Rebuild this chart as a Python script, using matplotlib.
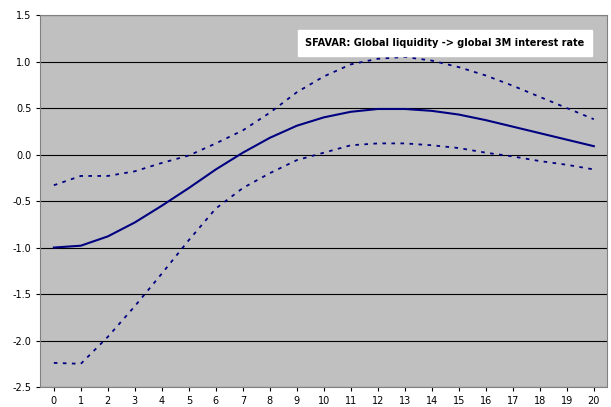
import matplotlib.pyplot as plt

horizons = list(range(21))
median = [-1.0, -0.98, -0.88, -0.73, -0.55, -0.36, -0.16, 0.02, 0.18, 0.31, 0.40,
          0.46, 0.49, 0.49, 0.47, 0.43, 0.37, 0.30, 0.23, 0.16, 0.09]
upper = [-0.33, -0.23, -0.23, -0.18, -0.09, -0.01, 0.12, 0.26, 0.45, 0.67, 0.84,
         0.97, 1.03, 1.05, 1.01, 0.94, 0.85, 0.74, 0.62, 0.50, 0.38]
lower = [-2.24, -2.25, -1.96, -1.63, -1.28, -0.92, -0.58, -0.36, -0.20, -0.06, 0.02,
         0.10, 0.12, 0.12, 0.10, 0.07, 0.02, -0.02, -0.07, -0.11, -0.16]
title = "SFAVAR: Global liquidity -> global 3M interest rate"

fig = plt.figure(figsize=(6.11, 4.07), dpi=100)
ax = fig.add_axes([0.066, 0.049, 0.928, 0.914])
ax.set_facecolor("#C0C0C0")
ax.plot(horizons, median, color="#000080", linewidth=1.5)
ax.plot(horizons, upper, color="#000080", linewidth=1.3, linestyle=(0, (2, 3)))
ax.plot(horizons, lower, color="#000080", linewidth=1.3, linestyle=(0, (2, 3)))
ax.set_xlim(-0.5, 20.5)
ax.set_ylim(-2.5, 1.5)
ax.set_xticks(horizons)
ax.set_yticks([1.5 - 0.5 * i for i in range(9)])
ax.set_yticklabels([f"{1.5 - 0.5 * i:.1f}" for i in range(9)])
ax.tick_params(labelsize=7, length=3)
ax.grid(axis="y", color="black", linewidth=0.8)
ax.set_axisbelow(True)
for s in ax.spines.values():
    s.set_color("#808080")
ax.text(0.96, 0.925, title, transform=ax.transAxes, ha="right", va="center",
        fontsize=7, fontweight="bold",
        bbox=dict(facecolor="white", edgecolor="white", boxstyle="square,pad=0.8"))
fig.savefig("out.png")
